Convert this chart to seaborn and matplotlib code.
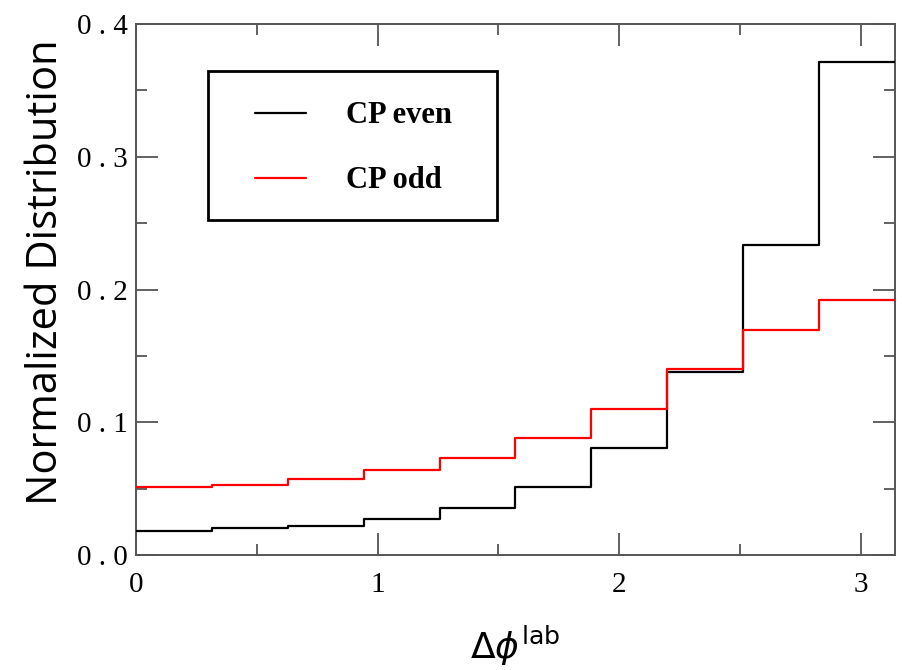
import numpy as np
import pandas as pd
import matplotlib
matplotlib.use("Agg")
import matplotlib.pyplot as plt
from matplotlib.patches import Rectangle
from matplotlib.ticker import MultipleLocator, FixedLocator
import seaborn as sns

# Binned distributions of the azimuthal separation (10 bins over [0, pi])
bin_edges = list(np.linspace(0, np.pi, 11))
cp_even = [0.0183, 0.0200, 0.0222, 0.0273, 0.0356, 0.0510, 0.0803, 0.1380, 0.2334, 0.3710]
cp_odd = [0.0514, 0.0529, 0.0570, 0.0640, 0.0733, 0.0880, 0.1097, 0.1400, 0.1694, 0.1920]
series_names = ["CP even", "CP odd"]
series_colors = ["black", "#ff0000"]
y_ticks = [0.0, 0.1, 0.2, 0.3, 0.4]
y_tick_labels = ["0 . 0", "0 . 1", "0 . 2", "0 . 3", "0 . 4"]
x_ticks = [0, 1, 2, 3]
x_tick_labels = ["0", "1", "2", "3"]

sns.set_theme(style="white")
plt.rcParams["mathtext.fontset"] = "dejavusans"
plt.rcParams["text.color"] = "black"
plt.rcParams["axes.labelcolor"] = "black"

rows = []
for name, vals in zip(series_names, [cp_even, cp_odd]):
    steps = vals + [vals[-1]]
    for x, y in zip(bin_edges, steps):
        rows.append({"dphi": x, "dist": y, "parity": name})
df = pd.DataFrame(rows)

fig = plt.figure(figsize=(9.02, 6.70), dpi=100)
ax = fig.add_axes([0.1508, 0.1716, 0.8414, 0.7926])

sns.lineplot(data=df, x="dphi", y="dist", hue="parity", hue_order=series_names,
             palette=series_colors, drawstyle="steps-post", linewidth=1.6,
             legend=False, ax=ax, zorder=3)

ax.set_xlim(0, np.pi)
ax.set_ylim(0, 0.4)

# Axes frame and inward ticks on all four sides
for sp in ax.spines.values():
    sp.set_visible(True)
    sp.set_color("#555555")
    sp.set_linewidth(1.4)

ax.xaxis.set_major_locator(FixedLocator(x_ticks))
ax.xaxis.set_minor_locator(MultipleLocator(0.5))
ax.yaxis.set_major_locator(FixedLocator(y_ticks))
ax.yaxis.set_minor_locator(MultipleLocator(0.05))
ax.tick_params(which="both", direction="in", top=True, right=True,
               bottom=True, left=True, color="#555555", width=1.3,
               labelcolor="black")
ax.tick_params(which="major", length=16)
ax.tick_params(which="minor", length=8)
ax.tick_params(axis="x", which="major", pad=12)
ax.tick_params(axis="y", which="major", pad=6)

serif = ["Liberation Serif"]
ax.set_xticklabels(x_tick_labels, fontfamily=serif, fontsize=21)
ax.set_yticklabels(y_tick_labels, fontfamily=serif, fontsize=21)

ax.set_xlabel(r"$\Delta\phi^{\mathrm{lab}}$", fontsize=26, labelpad=19)
ax.set_ylabel("Normalized Distribution", fontfamily=["Open Sans"], fontsize=30,
              labelpad=7)
ax.yaxis.label.set_y(0.533)

# Legend box
ax.add_patch(Rectangle((0.095, 0.631), 0.381, 0.281, transform=ax.transAxes,
                       fill=False, edgecolor="black", linewidth=2.0, zorder=4))
for i, (name, col) in enumerate(zip(series_names, series_colors)):
    yy = 0.832 - i * 0.1225
    ax.plot([0.157, 0.224], [yy, yy], transform=ax.transAxes, color=col,
            linewidth=1.6, zorder=5)
    ax.text(0.277, yy - 0.004, name, transform=ax.transAxes,
            fontfamily=["Liberation Serif"], fontweight="bold", fontsize=22,
            va="center", ha="left", zorder=5)

fig.savefig("out.png", dpi=100)
